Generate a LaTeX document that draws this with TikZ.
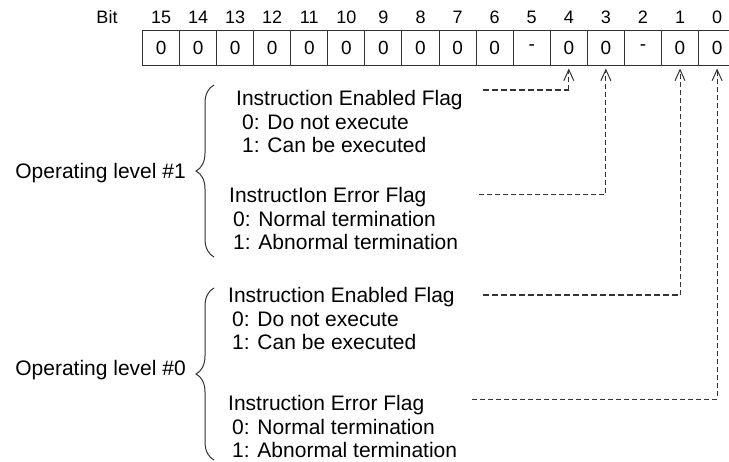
\documentclass[tikz,border=0pt]{standalone}
\usepackage{fontspec}
\setmainfont{Liberation Sans}
\usetikzlibrary{arrows.meta, decorations.pathreplacing}
\usepackage{xcolor}
\definecolor{LineGray}{HTML}{333333}
\tikzset{
    % register cells
    cell/.style={
        rectangle,
        draw=LineGray,
        line width=1pt,
        minimum width=37.07pt,
        minimum height=35pt,
        inner sep=0pt,
        font=\fontsize{19}{19}\selectfont
    },
    bitnum/.style={
        inner sep=0pt,
        font=\fontsize{18}{18}\selectfont
    },
    % text blocks
    flagtext/.style={
        anchor=north west,
        align=left,
        inner sep=0pt,
        font=\fontsize{21}{23.3}\selectfont
    },
    leveltext/.style={
        anchor=east,
        inner sep=0pt,
        font=\fontsize{21}{23}\selectfont
    },
    levelbrace/.style={
        decorate,
        decoration={brace, amplitude=18pt},
        line width=1pt,
        draw=LineGray
    },
    % dashed connectors
    thickdash/.style={
        line width=2pt,
        draw=LineGray,
        dash pattern=on 6pt off 3pt
    },
    thindash/.style={
        line width=1pt,
        draw=LineGray,
        dash pattern=on 5pt off 3pt
    },
    uparrow/.style={
        thindash,
        -{Straight Barb[length=11pt, width=10pt, line width=1pt]},
        shorten >=3pt
    }
}
\begin{document}
\begin{tikzpicture}[x=1pt, y=-1pt]
    \useasboundingbox (0,0) rectangle (729,461);
    \clip (0,0) rectangle (729,461);

    % bit register
    \node[bitnum] (bitlbl) at (107,17) {Bit};
    \foreach \b/\v in {15/0,14/0,13/0,12/0,11/0,10/0,9/0,8/0,7/0,6/0,5/-,4/0,3/0,2/-,1/0,0/0} {
        \node[cell] (b\b) at ({142.5+(15.5-\b)*37.07},47.5) {\v};
        \node[bitnum] (n\b) at ({142.5+(15.5-\b)*37.07},17) {\b};
    }

    % operating level #1
    \node[flagtext] (en1) at (236,90.5) {Instruction Enabled Flag\\\hspace*{6pt}0: Do not execute\\\hspace*{6pt}1: Can be executed};
    \node[flagtext] (er1) at (229,187.5) {InstructIon Error Flag\\\hspace*{4pt}0: Normal termination\\\hspace*{4pt}1: Abnormal termination};
    \node[leveltext] (lv1) at (186,173) {Operating level \#1};
    \draw[levelbrace] (214,257) -- (214,85);

    % operating level #0
    \node[flagtext] (en0) at (228,287.5) {Instruction Enabled Flag\\\hspace*{4pt}0: Do not execute\\\hspace*{4pt}1: Can be executed};
    \node[flagtext] (er0) at (228,395.5) {Instruction Error Flag\\\hspace*{4pt}0: Normal termination\\\hspace*{4pt}1: Abnormal termination};
    \node[leveltext] (lv0) at (186,370) {Operating level \#0};
    \draw[levelbrace] (214,460) -- (214,288);

    % flags to bits
    \coordinate (s4) at (483,90);
    \coordinate (k4) at (b4 |- s4);
    \draw[thickdash] (s4) -- (k4);
    \draw[uparrow] (k4) -- (b4.south);

    \coordinate (s3) at (479,194);
    \draw[uparrow] (s3) -| (b3.south);

    \coordinate (s1) at (483,295);
    \coordinate (k1) at (b1 |- s1);
    \draw[thickdash] (s1) -- (k1);
    \draw[uparrow] (k1) -- (b1.south);

    \coordinate (s0) at (472,399);
    \draw[uparrow] (s0) -| (b0.south);
\end{tikzpicture}
\end{document}
